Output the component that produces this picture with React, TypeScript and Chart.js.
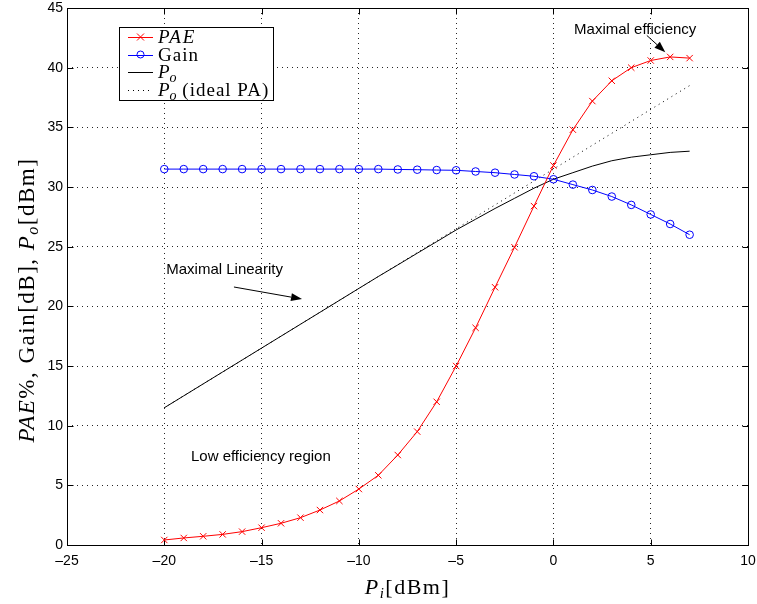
import React, { useEffect, useRef } from "react";
import { Chart, registerables } from "chart.js";

Chart.register(...registerables);

// ---- Data ----
const PI_DBM = [-20, -19, -18, -17, -16, -15, -14, -13, -12, -11, -10, -9, -8, -7, -6, -5, -4, -3, -2, -1, 0, 1, 2, 3, 4, 5, 6, 7];
const PAE = [0.42, 0.59, 0.73, 0.89, 1.12, 1.45, 1.82, 2.29, 2.93, 3.69, 4.69, 5.84, 7.54, 9.5, 12.0, 15.0, 18.2, 21.6, 24.95, 28.4, 31.8, 34.8, 37.2, 38.9, 40.0, 40.6, 40.9, 40.8];
const GAIN = [31.5, 31.5, 31.5, 31.5, 31.5, 31.5, 31.5, 31.5, 31.5, 31.5, 31.5, 31.5, 31.47, 31.45, 31.42, 31.4, 31.3, 31.2, 31.05, 30.9, 30.65, 30.2, 29.75, 29.2, 28.5, 27.7, 26.9, 26.0];
const PO = [11.5, 12.5, 13.5, 14.5, 15.5, 16.5, 17.5, 18.5, 19.5, 20.5, 21.5, 22.5, 23.47, 24.45, 25.42, 26.4, 27.3, 28.2, 29.05, 29.9, 30.65, 31.2, 31.75, 32.2, 32.5, 32.7, 32.9, 33.0];
const PO_IDEAL_X = [-20, 7];
const PO_IDEAL = [11.5, 38.5];
const X_TICKS = [-25, -20, -15, -10, -5, 0, 5, 10];
const Y_TICKS = [0, 5, 10, 15, 20, 25, 30, 35, 40, 45];

// annotations (data coordinates)
const NOTES = [
  { text: "Maximal efficiency", x: 1.06, y: 43.2 },
  { text: "Maximal Linearity", x: -19.9, y: 23.05 },
  { text: "Low efficiency region", x: -18.63, y: 7.37 },
];
const ARROWS = [
  { x1: 4.8, y1: 42.7, x2: 5.75, y2: 41.3 },
  { x1: -16.42, y1: 21.62, x2: -12.92, y2: 20.61 },
];

type Run = { text: string; font: string; dy?: number; ls?: string };

const SERIF = '"Liberation Serif", "Times New Roman", serif';
const SANS = '"Liberation Sans", Arial, Helvetica, sans-serif';

function runsWidth(ctx: CanvasRenderingContext2D, runs: Run[]) {
  let w = 0;
  for (const r of runs) {
    ctx.font = r.font;
    (ctx as any).letterSpacing = r.ls || "0px";
    w += ctx.measureText(r.text).width;
  }
  return w;
}
function drawRuns(ctx: CanvasRenderingContext2D, runs: Run[], x: number, y: number) {
  for (const r of runs) {
    ctx.font = r.font;
    (ctx as any).letterSpacing = r.ls || "0px";
    ctx.fillText(r.text, x, y + (r.dy || 0));
    x += ctx.measureText(r.text).width;
  }
  (ctx as any).letterSpacing = "0px";
}

function drawCross(ctx: CanvasRenderingContext2D, x: number, y: number, r: number) {
  ctx.beginPath();
  ctx.moveTo(x - r, y - r);
  ctx.lineTo(x + r, y + r);
  ctx.moveTo(x - r, y + r);
  ctx.lineTo(x + r, y - r);
  ctx.stroke();
}

function drawArrow(ctx: CanvasRenderingContext2D, x1: number, y1: number, x2: number, y2: number) {
  const ang = Math.atan2(y2 - y1, x2 - x1);
  const hl = 11, hw = 4;
  const bx = x2 - hl * Math.cos(ang), by = y2 - hl * Math.sin(ang);
  ctx.strokeStyle = "#000";
  ctx.lineWidth = 1;
  ctx.beginPath();
  ctx.moveTo(x1, y1);
  ctx.lineTo(bx, by);
  ctx.stroke();
  ctx.fillStyle = "#000";
  ctx.beginPath();
  ctx.moveTo(x2, y2);
  ctx.lineTo(bx + hw * Math.sin(ang), by - hw * Math.cos(ang));
  ctx.lineTo(bx - hw * Math.sin(ang), by + hw * Math.cos(ang));
  ctx.closePath();
  ctx.fill();
}

const zeroPad = (s: any) => {
  s.paddingLeft = 0;
  s.paddingRight = 0;
  s.paddingTop = 0;
  s.paddingBottom = 0;
};

const framePlugin = {
  id: "frame",
  beforeDatasetsDraw(chart: any) {
    const { ctx, chartArea: a, scales } = chart;
    ctx.save();
    ctx.strokeStyle = "#000";
    ctx.lineWidth = 1;
    const L = Math.round(a.left) + 0.5, R = Math.round(a.right) + 0.5;
    const T = Math.round(a.top) + 0.5, B = Math.round(a.bottom) + 0.5;
    ctx.strokeRect(L, T, R - L, B - T);
    const tl = 6;
    ctx.beginPath();
    for (const v of X_TICKS) {
      const px = Math.round(scales.x.getPixelForValue(v)) + 0.5;
      ctx.moveTo(px, B); ctx.lineTo(px, B - tl);
      ctx.moveTo(px, T); ctx.lineTo(px, T + tl);
    }
    for (const v of Y_TICKS) {
      const py = Math.round(scales.y.getPixelForValue(v)) + 0.5;
      ctx.moveTo(L, py); ctx.lineTo(L + tl, py);
      ctx.moveTo(R, py); ctx.lineTo(R - tl, py);
    }
    ctx.stroke();
    ctx.restore();
  },
  afterDraw(chart: any) {
    const { ctx, chartArea: a, scales } = chart;
    ctx.save();
    // annotations
    ctx.fillStyle = "#000";
    ctx.textBaseline = "middle";
    ctx.textAlign = "left";
    ctx.font = `15px ${SANS}`;
    for (const n of NOTES) {
      ctx.fillText(n.text, scales.x.getPixelForValue(n.x), scales.y.getPixelForValue(n.y));
    }
    for (const ar of ARROWS) {
      drawArrow(ctx, scales.x.getPixelForValue(ar.x1), scales.y.getPixelForValue(ar.y1),
        scales.x.getPixelForValue(ar.x2), scales.y.getPixelForValue(ar.y2));
    }

    // legend
    const lx = 119.5, ly = 27.5, lw = 154, lh = 73;
    ctx.fillStyle = "#fff";
    ctx.fillRect(lx, ly, lw, lh);
    ctx.strokeStyle = "#000";
    ctx.lineWidth = 1;
    ctx.strokeRect(lx, ly, lw, lh);
    const rows = [37, 54.5, 72, 90];
    const it = `italic 19px ${SERIF}`;
    const rm = `19px ${SERIF}`;
    const sub = `italic 14px ${SERIF}`;
    const labels: Run[][] = [
      [{ text: "PAE", font: it, ls: "2px" }],
      [{ text: "Gain", font: rm, ls: "1px" }],
      [{ text: "P", font: it }, { text: "o", font: sub, dy: 4 }],
      [{ text: "P", font: it }, { text: "o", font: sub, dy: 4 }, { text: " (ideal PA)", font: rm, ls: "1px" }],
    ];
    const styles = [
      { color: "#ff0000", dash: [] as number[], marker: "x" },
      { color: "#0000ff", dash: [] as number[], marker: "o" },
      { color: "#000", dash: [] as number[], marker: "" },
      { color: "#000", dash: [1, 4], marker: "" },
    ];
    rows.forEach((ry, i) => {
      const s = styles[i];
      ctx.strokeStyle = s.color;
      ctx.lineWidth = 1;
      ctx.setLineDash(s.dash);
      ctx.beginPath();
      ctx.moveTo(128, Math.round(ry) + 0.5);
      ctx.lineTo(153, Math.round(ry) + 0.5);
      ctx.stroke();
      ctx.setLineDash([]);
      if (s.marker === "x") drawCross(ctx, 140.5, ry, 3.5);
      if (s.marker === "o") {
        ctx.beginPath();
        ctx.arc(140.5, ry, 3.5, 0, Math.PI * 2);
        ctx.stroke();
      }
      ctx.fillStyle = "#000";
      ctx.textBaseline = "alphabetic";
      drawRuns(ctx, labels[i], 158, ry + 6);
    });

    // x axis title
    const xr: Run[] = [
      { text: "P", font: `italic 22px ${SERIF}`, ls: "1.5px" },
      { text: "i", font: `italic 15px ${SERIF}`, dy: 4, ls: "1.5px" },
      { text: "[dBm]", font: `22px ${SERIF}`, ls: "1.5px" },
    ];
    const xw = runsWidth(ctx, xr);
    ctx.fillStyle = "#000";
    ctx.textBaseline = "alphabetic";
    drawRuns(ctx, xr, (a.left + a.right) / 2 - xw / 2, 594);

    // y axis title
    const yr: Run[] = [
      { text: "PAE", font: `italic 23px ${SERIF}`, ls: "1.5px" },
      { text: "%, Gain[dB], ", font: `23px ${SERIF}`, ls: "1.5px" },
      { text: "P", font: `italic 23px ${SERIF}`, ls: "1.5px" },
      { text: "o", font: `italic 16px ${SERIF}`, dy: 4, ls: "1.5px" },
      { text: "[dBm]", font: `23px ${SERIF}`, ls: "1.5px" },
    ];
    const yw = runsWidth(ctx, yr);
    ctx.translate(34, 300);
    ctx.rotate(-Math.PI / 2);
    drawRuns(ctx, yr, -yw / 2, 0);
    ctx.restore();
  },
};

export default function App() {
  const ref = useRef<HTMLCanvasElement | null>(null);
  useEffect(() => {
    document.body.style.margin = "0";
    const canvas = ref.current!;
    const chart = new Chart(canvas, {
      type: "scatter",
      data: {
        datasets: [
          {
            label: "PAE",
            data: PI_DBM.map((x, i) => ({ x, y: PAE[i] })),
            showLine: true,
            borderColor: "#ff0000",
            borderWidth: 1,
            pointStyle: "crossRot",
            pointRadius: 4.5,
            pointBorderColor: "#ff0000",
            pointBorderWidth: 1,
            pointBackgroundColor: "#ff0000",
            order: 1,
          },
          {
            label: "Gain",
            data: PI_DBM.map((x, i) => ({ x, y: GAIN[i] })),
            showLine: true,
            borderColor: "#0000ff",
            borderWidth: 1,
            pointStyle: "circle",
            pointRadius: 3.8,
            pointBorderColor: "#0000ff",
            pointBorderWidth: 1,
            pointBackgroundColor: "rgba(0,0,0,0)",
            order: 2,
          },
          {
            label: "Po",
            data: PI_DBM.map((x, i) => ({ x, y: PO[i] })),
            showLine: true,
            borderColor: "#000",
            borderWidth: 1,
            pointRadius: 0,
            order: 3,
          },
          {
            label: "Po (ideal PA)",
            data: PO_IDEAL_X.map((x, i) => ({ x, y: PO_IDEAL[i] })),
            showLine: true,
            borderColor: "#000",
            borderWidth: 1,
            borderDash: [1, 4],
            pointRadius: 0,
            order: 4,
          },
        ],
      },
      options: {
        animation: false,
        responsive: false,
        devicePixelRatio: 1,
        layout: { padding: { top: 8, right: 9, left: 0, bottom: 0 } },
        plugins: { legend: { display: false }, tooltip: { enabled: false } },
        scales: {
          x: {
            type: "linear",
            min: -25,
            max: 10,
            afterBuildTicks: (s: any) => { s.ticks = X_TICKS.map((v) => ({ value: v })); },
            afterFit: (s: any) => { s.height = 59; zeroPad(s); },
            ticks: {
              color: "#000",
              font: { family: SANS, size: 14 },
              padding: 8,
              maxRotation: 0,
              autoSkip: false,
              callback: (v: any) => String(v).replace("-", "\u2013"),
            },
            grid: { color: "rgba(0,0,0,0.85)", lineWidth: 1, drawTicks: false },
            border: { display: false, dash: [1, 4] },
          },
          y: {
            type: "linear",
            min: 0,
            max: 45,
            afterBuildTicks: (s: any) => { s.ticks = Y_TICKS.map((v) => ({ value: v })); },
            afterFit: (s: any) => { s.width = 67; zeroPad(s); },
            ticks: {
              color: "#000",
              font: { family: SANS, size: 14 },
              padding: 4,
              autoSkip: false,
              callback: (v: any) => String(v),
            },
            grid: { color: "rgba(0,0,0,0.85)", lineWidth: 1, drawTicks: false },
            border: { display: false, dash: [1, 4] },
          },
        },
      },
      plugins: [framePlugin],
    } as any);
    return () => chart.destroy();
  }, []);
  return (
    <div style={{ position: "fixed", left: 0, top: 0, width: 757, height: 604, background: "#fff" }}>
      <canvas ref={ref} width={757} height={604} style={{ width: 757, height: 604, display: "block" }} />
    </div>
  );
}
